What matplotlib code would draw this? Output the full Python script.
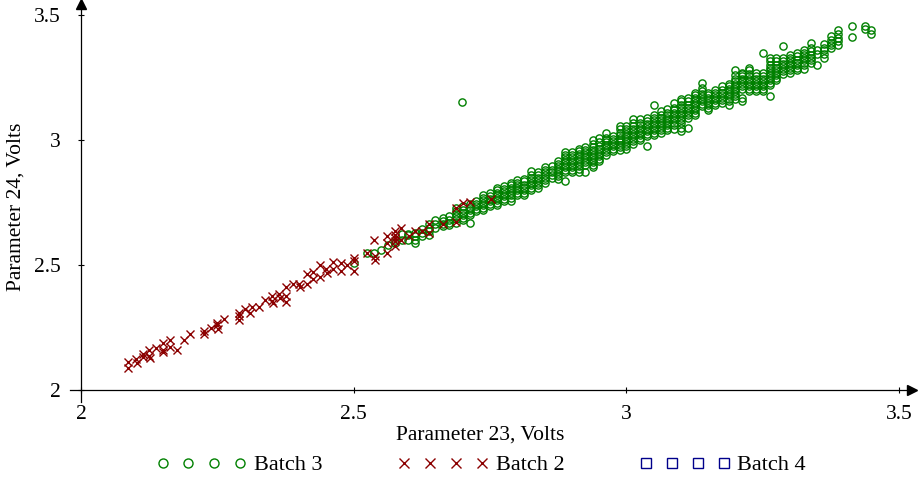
import matplotlib
matplotlib.use('Agg')
import matplotlib.pyplot as plt

plt.rcParams['font.family'] = ['Liberation Serif', 'DejaVu Serif']

# Batch 3 - green circles, read column by column (x value, then the y values in that column)
green_x = [2.50, 2.525, 2.538, 2.55, 2.563, 2.575, 2.588, 2.60, 2.613, 2.625,
           2.638, 2.65, 2.663, 2.675, 2.688, 2.70, 2.713, 2.725, 2.738, 2.75,
           2.763, 2.775, 2.788, 2.80, 2.813, 2.825, 2.838, 2.85, 2.863, 2.875,
           2.888, 2.90, 2.913, 2.925, 2.938, 2.95, 2.963, 2.975, 2.988, 3.0,
           3.013, 3.025, 3.038, 3.05, 3.063, 3.075, 3.088, 3.10, 3.113, 3.125,
           3.138, 3.15, 3.163, 3.175, 3.188, 3.20, 3.213, 3.225, 3.238, 3.25,
           3.263, 3.275, 3.288, 3.30, 3.313, 3.325, 3.338, 3.35, 3.363, 3.375,
           3.388, 3.413, 3.437, 3.449, 2.698]
green_y = [
    [2.51], [2.55], [2.55], [2.56], [2.58],
    [2.59, 2.60], [2.60, 2.625], [2.60, 2.62, 2.625], [2.59, 2.60, 2.615, 2.63],
    [2.615, 2.63, 2.645],
    [2.62, 2.635, 2.65, 2.665], [2.65, 2.665, 2.68], [2.655, 2.665, 2.675, 2.69],
    [2.66, 2.67, 2.68, 2.695], [2.67, 2.685, 2.695, 2.705, 2.715, 2.73],
    [2.68, 2.69, 2.70, 2.71, 2.72, 2.735], [2.67, 2.70, 2.71, 2.72, 2.73, 2.745],
    [2.715, 2.725, 2.735, 2.745, 2.755], [2.72, 2.73, 2.74, 2.75, 2.76, 2.77, 2.78],
    [2.735, 2.745, 2.755, 2.765, 2.775, 2.79],
    [2.74, 2.75, 2.76, 2.77, 2.78, 2.79, 2.80, 2.81],
    [2.755, 2.765, 2.775, 2.785, 2.795, 2.805, 2.815],
    [2.755, 2.77, 2.78, 2.79, 2.80, 2.81, 2.82, 2.83],
    [2.78, 2.79, 2.80, 2.81, 2.82, 2.83, 2.84],
    [2.78, 2.79, 2.80, 2.81, 2.82, 2.835, 2.845],
    [2.80, 2.81, 2.82, 2.83, 2.84, 2.85, 2.86, 2.875],
    [2.81, 2.82, 2.83, 2.84, 2.85, 2.86, 2.87],
    [2.83, 2.84, 2.85, 2.86, 2.87, 2.88, 2.89],
    [2.85, 2.86, 2.87, 2.88, 2.895],
    [2.845, 2.855, 2.865, 2.875, 2.885, 2.895, 2.905, 2.915],
    [2.835, 2.87, 2.88, 2.89, 2.90, 2.91, 2.92, 2.93, 2.94, 2.95],
    [2.87, 2.88, 2.89, 2.90, 2.91, 2.92, 2.93, 2.94, 2.95],
    [2.87, 2.885, 2.895, 2.905, 2.915, 2.925, 2.935, 2.945, 2.955, 2.965],
    [2.87, 2.90, 2.91, 2.92, 2.93, 2.94, 2.95, 2.96, 2.97],
    [2.89, 2.90, 2.91, 2.92, 2.93, 2.94, 2.95, 2.96, 2.97, 2.985, 3.0],
    [2.915, 2.925, 2.935, 2.945, 2.955, 2.965, 2.975, 2.99, 3.01],
    [2.94, 2.95, 2.96, 2.97, 2.98, 2.99, 3.0, 3.01, 3.03],
    [2.955, 2.965, 2.975, 2.985, 2.995, 3.005, 3.015],
    [2.96, 2.97, 2.98, 2.99, 3.0, 3.01, 3.02, 3.03, 3.045, 3.055],
    [2.965, 2.975, 2.985, 2.995, 3.005, 3.015, 3.025, 3.035, 3.045, 3.055],
    [2.985, 2.995, 3.005, 3.015, 3.025, 3.035, 3.045, 3.055, 3.07, 3.085],
    [3.0, 3.01, 3.02, 3.03, 3.04, 3.05, 3.06, 3.07, 3.085],
    [2.975, 3.015, 3.025, 3.035, 3.045, 3.055, 3.065, 3.075, 3.09],
    [3.02, 3.03, 3.04, 3.05, 3.06, 3.07, 3.08, 3.09, 3.10, 3.14],
    [3.03, 3.04, 3.05, 3.06, 3.07, 3.08, 3.09, 3.10, 3.115],
    [3.04, 3.05, 3.06, 3.07, 3.08, 3.09, 3.10, 3.11, 3.125],
    [3.045, 3.06, 3.07, 3.08, 3.09, 3.10, 3.11, 3.12, 3.13, 3.15],
    [3.035, 3.05, 3.07, 3.08, 3.09, 3.10, 3.11, 3.12, 3.13, 3.14, 3.155, 3.165],
    [3.05, 3.09, 3.10, 3.11, 3.12, 3.13, 3.14, 3.155, 3.17],
    [3.10, 3.11, 3.12, 3.13, 3.14, 3.15, 3.16, 3.17, 3.18, 3.19],
    [3.135, 3.145, 3.155, 3.165, 3.175, 3.185, 3.195, 3.21, 3.23],
    [3.12, 3.13, 3.14, 3.15, 3.16, 3.17, 3.18, 3.19],
    [3.14, 3.15, 3.16, 3.17, 3.18, 3.19, 3.20],
    [3.15, 3.16, 3.17, 3.18, 3.19, 3.20, 3.215],
    [3.14, 3.155, 3.165, 3.175, 3.185, 3.195, 3.205, 3.215, 3.225],
    [3.165, 3.175, 3.185, 3.195, 3.205, 3.215, 3.225, 3.235, 3.245, 3.26, 3.28],
    [3.155, 3.17, 3.205, 3.215, 3.225, 3.235, 3.245, 3.255, 3.265, 3.27],
    [3.195, 3.205, 3.215, 3.225, 3.235, 3.245, 3.255, 3.265, 3.28, 3.29],
    [3.195, 3.205, 3.215, 3.225, 3.235, 3.245, 3.255, 3.27],
    [3.195, 3.205, 3.215, 3.225, 3.235, 3.245, 3.255, 3.27, 3.35],
    [3.175, 3.22, 3.23, 3.24, 3.25, 3.26, 3.27, 3.28, 3.29, 3.30, 3.315, 3.33],
    [3.24, 3.25, 3.26, 3.27, 3.28, 3.29, 3.30, 3.315, 3.33],
    [3.265, 3.275, 3.285, 3.295, 3.305, 3.315, 3.33, 3.375],
    [3.27, 3.28, 3.29, 3.30, 3.31, 3.32, 3.33, 3.34],
    [3.28, 3.29, 3.30, 3.31, 3.32, 3.335, 3.35],
    [3.285, 3.30, 3.31, 3.32, 3.33, 3.34, 3.35, 3.36],
    [3.31, 3.32, 3.33, 3.34, 3.355, 3.37, 3.39],
    [3.30, 3.345, 3.36],
    [3.33, 3.345, 3.36, 3.37, 3.385],
    [3.37, 3.38, 3.39, 3.40, 3.415],
    [3.38, 3.395, 3.41, 3.425, 3.44],
    [3.414, 3.455], [3.445, 3.455], [3.425, 3.44],
    [3.152],
]

# Batch 2 - dark red crosses
red_x = [2.087, 2.087, 2.101, 2.102, 2.113, 2.114, 2.125, 2.125, 2.127, 2.138,
         2.150, 2.150, 2.151, 2.163, 2.163, 2.176, 2.188, 2.200, 2.225, 2.226,
         2.238, 2.250, 2.250, 2.252, 2.263, 2.289, 2.289, 2.290, 2.301, 2.309,
         2.313, 2.326, 2.338, 2.350, 2.351, 2.353, 2.364, 2.365, 2.376, 2.376,
         2.376, 2.389, 2.399, 2.401, 2.414, 2.414, 2.425, 2.426, 2.439, 2.439,
         2.450, 2.452, 2.463, 2.463, 2.476, 2.476, 2.488, 2.500, 2.500, 2.501,
         2.525, 2.538, 2.540, 2.540, 2.562, 2.562, 2.562, 2.575, 2.575, 2.575,
         2.575, 2.575, 2.587, 2.587, 2.601, 2.613, 2.625, 2.638, 2.638, 2.663,
         2.688, 2.688, 2.701, 2.713, 2.751]
red_y = [2.114, 2.087, 2.123, 2.110, 2.145, 2.134, 2.161, 2.137, 2.127, 2.170,
         2.188, 2.161, 2.154, 2.200, 2.171, 2.161, 2.200, 2.225, 2.238, 2.225,
         2.248, 2.270, 2.260, 2.246, 2.284, 2.308, 2.297, 2.281, 2.324, 2.308,
         2.332, 2.332, 2.361, 2.375, 2.357, 2.348, 2.382, 2.368, 2.412, 2.375,
         2.351, 2.424, 2.422, 2.411, 2.424, 2.462, 2.471, 2.445, 2.502, 2.453,
         2.482, 2.469, 2.511, 2.482, 2.509, 2.475, 2.498, 2.529, 2.516, 2.475,
         2.549, 2.602, 2.535, 2.522, 2.616, 2.589, 2.549, 2.636, 2.622, 2.609,
         2.596, 2.576, 2.649, 2.602, 2.616, 2.636, 2.636, 2.663, 2.630, 2.663,
         2.730, 2.672, 2.750, 2.752, 2.763]

# Batch 4 - no points shown in the plot, only in the legend
blue_x = []
blue_y = []

labels = ['Batch 3', 'Batch 2', 'Batch 4']
xticks = [2, 2.5, 3, 3.5]
yticks = [2, 2.5, 3, 3.5]

gx = [x for x, col in zip(green_x, green_y) for y in col]
gy = [y for col in green_y for y in col]

fig = plt.figure(figsize=(9.22, 4.8), dpi=100)
ax = fig.add_axes([70 / 922, 78 / 480, 842 / 922, 398 / 480])

ax.plot(gx, gy, 'o', color='#008000', mfc='none', ms=5.2, mew=1.0, label=labels[0])
ax.plot(red_x, red_y, 'x', color='#8b0000', ms=6, mew=1.0, label=labels[1])
ax.plot(blue_x, blue_y, 's', color='#00008b', mfc='none', ms=5.5, mew=1.0, label=labels[2])

ax.set_xlim(2 - 11 / 546, 3.5 + 13 / 546)
ax.set_ylim(2 - 12 / 250, 3.5 + 11 / 250)

# axes crossing at (2, 2) with arrow heads
ax.spines['top'].set_visible(False)
ax.spines['right'].set_visible(False)
ax.spines['bottom'].set_position(('data', 2))
ax.spines['left'].set_position(('data', 2))
ax.spines['bottom'].set_linewidth(0.9)
ax.spines['left'].set_linewidth(0.9)
ax.plot(1, 2, '>k', ms=6.5, transform=ax.get_yaxis_transform(), clip_on=False)
ax.plot(2, 1, '^k', ms=6.5, transform=ax.get_xaxis_transform(), clip_on=False)

ax.set_xticks(xticks)
ax.set_xticklabels(['2', '2.5', '3', '3.5'])
ax.set_yticks(yticks)
ax.set_yticklabels(['2', '2.5', '3', '3.5'])
ax.tick_params(direction='inout', length=5, width=0.8, labelsize=15.5, pad=8)
ax.tick_params(axis='y', pad=12)

ax.set_xlabel('Parameter 23, Volts', fontsize=15.5)
ax.xaxis.set_label_coords(0.487, -0.06)
ax.set_ylabel('Parameter 24, Volts', fontsize=15.5)
ax.yaxis.set_label_coords(-0.053, 0.49)

fig.legend(loc='center', bbox_to_anchor=(481 / 922, 1 - 465 / 480), ncol=3,
           frameon=False, numpoints=4, fontsize=16, handlelength=4.1,
           handletextpad=0.3, columnspacing=3.4, borderpad=0, markerscale=1.25)

plt.savefig('out.png', dpi=100)
